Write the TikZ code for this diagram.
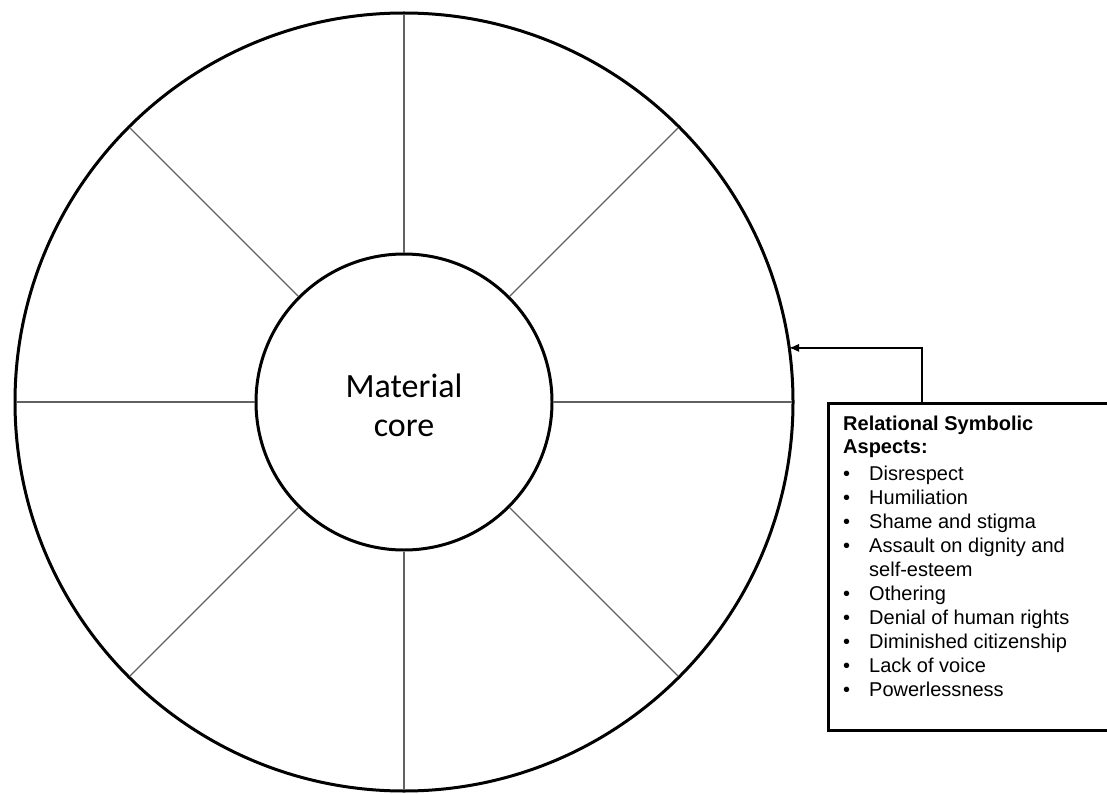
\documentclass[tikz,border=0pt]{standalone}
\usepackage{fontspec}
\setmainfont{Liberation Sans}
\newfontfamily\corefont{Carlito}
\usetikzlibrary{arrows.meta}
\newcommand{\itembullet}{\makebox[26pt][l]{\textbullet}}
\begin{document}
\begin{tikzpicture}[x=1pt,y=-1pt,
  ring/.style={circle, draw, line width=3pt, outer sep=0pt, inner sep=0pt},
  spoke/.style={draw=black!62, line width=1.2pt, shorten <=1.5pt, shorten >=1.5pt},
  panel/.style={rectangle, draw, line width=3pt, outer sep=0pt, inner sep=0pt, anchor=north west},
  link/.style={line width=1.3pt, -{Latex[length=10pt,width=8.5pt]}}]
\useasboundingbox (0,0) rectangle (1107,794);

% wheel: outer rim, material core and eight spokes
\node[ring, minimum size=778pt] (rim) at (404,402) {};
\node[ring, minimum size=296pt] (core) at (404,402) {};
\foreach \a in {0,45,...,315}
  \draw[spoke] (core.\a) -- (rim.\a);
\node[anchor=base, inner sep=0pt, font=\corefont\fontsize{34}{39}\selectfont] (corelabel) at (404,397.7)
  {\begin{tabular}[t]{@{}c@{}}Material\\core\end{tabular}};

% list of relational symbolic aspects
\node[panel, minimum width=284pt, minimum height=327pt] (panel) at (828,403) {};
\node[anchor=base west, inner sep=0pt, font=\fontsize{20}{24}\selectfont] (aspects) at (843,430.7) {%
  \begin{tabular}[t]{@{}l@{}l@{}}
    \multicolumn{2}{@{}l@{}}{\bfseries Relational Symbolic}\\[-1.4pt]
    \multicolumn{2}{@{}l@{}}{\bfseries Aspects:}\\[2.7pt]
    \itembullet & Disrespect\\
    \itembullet & Humiliation\\
    \itembullet & Shame and stigma\\
    \itembullet & Assault on dignity and\\
                & self-esteem\\
    \itembullet & Othering\\
    \itembullet & Denial of human rights\\
    \itembullet & Diminished citizenship\\
    \itembullet & Lack of voice\\
    \itembullet & Powerlessness
  \end{tabular}};

% connector from the list to the rim
\coordinate (tap) at ([xshift=94pt]panel.north west);
\draw[link] (tap) |- (rim.8.6);
\end{tikzpicture}
\end{document}
